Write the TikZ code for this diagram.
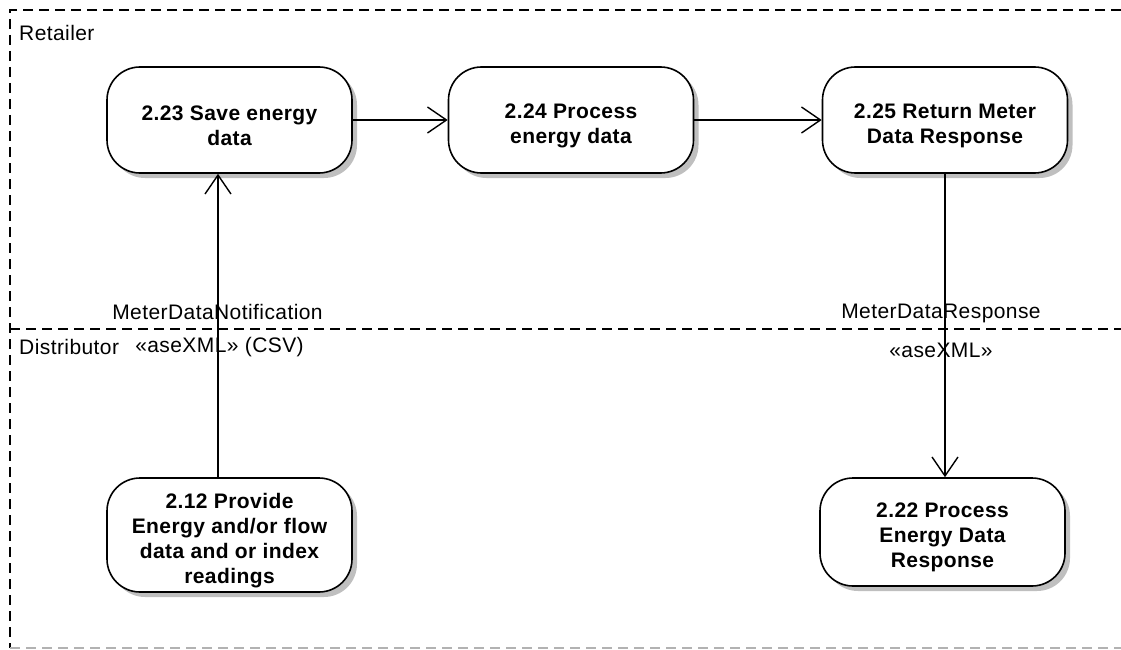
\documentclass[tikz,border=0pt]{standalone}
\usepackage{fontspec}
\setmainfont{Liberation Sans}[LetterSpace=2]
\usetikzlibrary{arrows.meta,shadows}
\def\lift{\rule{0pt}{26pt}}

\begin{document}
\begin{tikzpicture}[x=1pt,y=-1pt]
\tikzstyle{every node}+=[inner sep=0pt, font=\fontsize{21}{24}\selectfont]
\tikzstyle{activity}=[draw=black, line width=1.6pt, fill=white, rounded corners=33pt, minimum width=245pt, minimum height=106pt, align=center, font=\fontsize{21}{25}\selectfont\bfseries, drop shadow={shadow xshift=5pt, shadow yshift=-5pt, fill=black!25, opacity=1}]
\tikzstyle{lane}=[line width=1.4pt, dash pattern=on 10pt off 6pt]
\tikzstyle{flow}=[line width=1.4pt, -{Straight Barb[length=19pt,width=26pt]}]
\useasboundingbox (0,0) rectangle (1121,650);
% swimlanes
\draw[lane] (1121,10) -- (10,10) -- (10,648);
\draw[lane] (10,329) -- (1121,329);
\draw[lane, black!30] (10,648) -- (1121,648);
\node[anchor=west] (retailer) at (19,33) {Retailer};
\node[anchor=west] (distributor) at (19,347) {Distributor};
% activities
\node[activity] (n223) at (229.5,120) {\lift 2.23 Save energy\\data};
\node[activity] (n224) at (571,120) {\lift 2.24 Process\\energy data};
\node[activity] (n225) at (945,120) {\lift 2.25 Return Meter\\Data Response};
\node[activity, minimum height=114pt] (n212) at (229.5,535) {\lift 2.12 Provide\\Energy and/or flow\\data and or index\\readings};
\node[activity, minimum height=108pt] (n222) at (942.5,532) {\lift 2.22 Process\\Energy Data\\Response};
% flows
\draw[flow] (n223) -- (n224);
\draw[flow] (n224) -- (n225);
\draw[flow] ([xshift=-11.5pt]n212.north) -- ([xshift=-11.5pt]n223.south);
\draw[flow] (n225.south) -- (n225.south |- n222.north);
\node (notif) at (217.5,312) {MeterDataNotification};
\node (csv) at (219.5,347) {«aseXML» (CSV)};
\node (resp) at (941,313) {MeterDataResponse};
\node (xml) at (941,350) {«aseXML»};
\end{tikzpicture}
\end{document}
